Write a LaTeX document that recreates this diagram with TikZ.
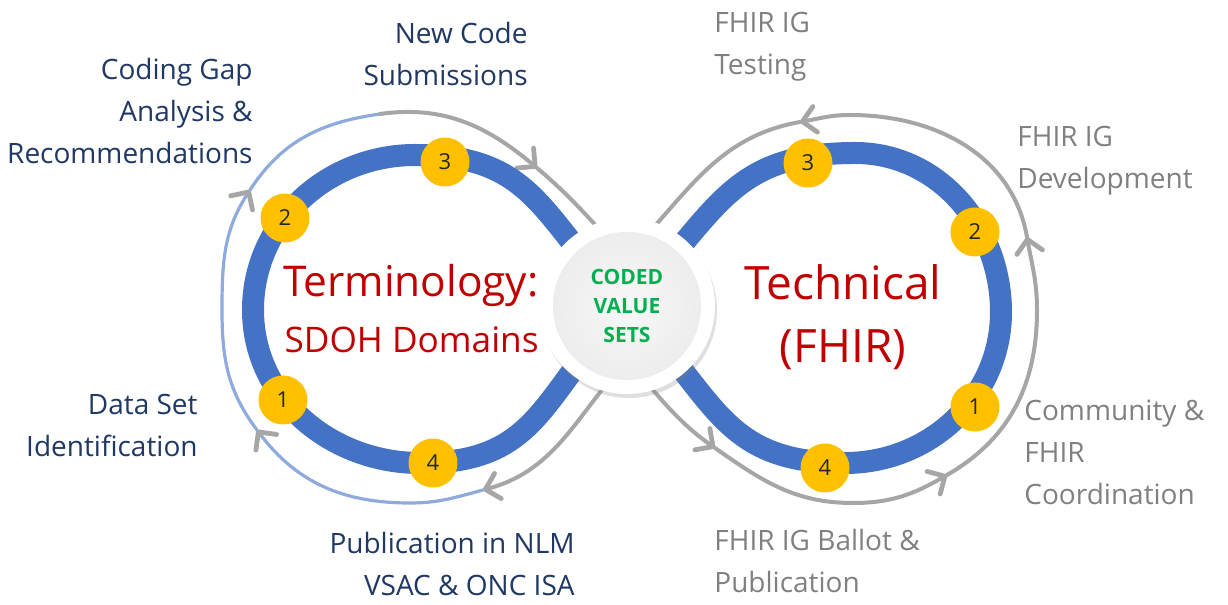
\documentclass[tikz,border=0pt]{standalone}
\usepackage{fontspec}
\setmainfont{Open Sans}
\usetikzlibrary{positioning,arrows.meta,shadows}

\definecolor{bandblue}{RGB}{68,114,196}
\definecolor{ringblue}{RGB}{143,170,220}
\definecolor{ringgray}{RGB}{166,166,166}
\definecolor{numyellow}{RGB}{255,192,0}
\definecolor{termnavy}{RGB}{32,56,100}
\definecolor{fhirgray}{RGB}{128,128,128}
\definecolor{titlered}{RGB}{192,0,0}
\definecolor{codegreen}{RGB}{0,176,80}

\tikzset{
  band/.style={draw=bandblue,line width=11pt},
  ring/.style={draw=ringgray,line width=2pt,line cap=round},
  ringb/.style={ring,draw=ringblue,line width=1.6pt},
  tip/.style={-{Straight Barb[length=6.5pt,width=13pt,color=ringgray,line width=2.4pt,round]}},
  num/.style={circle,fill=numyellow,minimum size=24.5pt,inner sep=0pt,text=black!85,font=\fontsize{11}{13}\selectfont},
  leftlbl/.style={align=right,inner sep=0pt,text=termnavy,font=\fontsize{14}{21}\selectfont},
  rightlbl/.style={align=left,inner sep=0pt,text=fhirgray,font=\fontsize{14}{21}\selectfont},
}

\begin{document}
\begin{tikzpicture}[x=0.5pt,y=0.5pt]
    \useasboundingbox (0,0) rectangle (1228,605);
    \coordinate (cc) at (627,299);

    % left ring
    \draw[ring,tip] (635,253) to[out=225,in=15] (483,115);
    \draw[ringb,tip] (483,115) to[out=195,in=0] (410,102) to[out=180,in=307] (257,175);
    \draw[ringb,tip] (257,175) to[out=127,in=270] (222,295) to[out=90,in=237] (250,415);
    \draw[ringb] (250,415) to[out=57,in=188] (380,491);
    \draw[ring,tip] (380,491) to[out=8,in=140] (537,437);
    \draw[ring] (537,437) to[out=320,in=135] (627,347);

    % right ring
    \draw[ring,tip] (618,253) to[out=315,in=145] (715,157);
    \draw[ring,tip] (715,157) to[out=325,in=180] (853,102) to[out=0,in=210] (947,130);
    \draw[ring,tip] (947,130) to[out=30,in=270] (1037,295) to[out=90,in=280] (1027,368);
    \draw[ring,tip] (1027,368) to[out=100,in=0] (850,490) to[out=180,in=10] (800,483);
    \draw[ring] (800,483) to[out=190,in=45] (625,347);

    % figure eight
    \draw[band] (cc) to[out=135,in=0,looseness=1.2] (415,450) to[out=180,in=90] (253,295)
        to[out=270,in=180] (420,142) to[out=0,in=225,looseness=1.2] (cc)
        to[out=45,in=180,looseness=1.2] (855,452) to[out=0,in=90] (1001,293)
        to[out=270,in=0] (845,142) to[out=180,in=315,looseness=1.2] (cc);

    % steps
    \node[num] (t1) at (283,205) {1};
    \node[num] (t2) at (285,387) {2};
    \node[num] (t3) at (445,443) {3};
    \node[num] (t4) at (433,142) {4};
    \node[num] (f1) at (975,198) {1};
    \node[num] (f2) at (975,373) {2};
    \node[num] (f3) at (808,442) {3};
    \node[num] (f4) at (825,137) {4};

    % hub
    \node[circle,fill=white,minimum size=88pt,drop shadow={opacity=0.25,shadow xshift=1pt,shadow yshift=-2pt}] (hub) at (cc) {};
    \node[circle,inner color=gray!6,outer color=gray!14,minimum size=74pt,align=center,
          text=codegreen,font=\bfseries\fontsize{10.5}{14.5}\selectfont] (cvs) at (cc) {CODED\\VALUE\\SETS};

    % lobe titles
    \node[anchor=base east,inner sep=0pt,text=titlered,font=\fontsize{21.2}{26}\selectfont] (term) at (539,308) {Terminology:};
    \node[anchor=base east,inner sep=0pt,text=titlered,font=\fontsize{17.6}{22}\selectfont] (sdoh) at (539,252) {SDOH Domains};
    \node[anchor=base,inner sep=0pt,text=titlered,font=\fontsize{23}{26}\selectfont] (tech) at (843,305) {Technical};
    \node[anchor=base,inner sep=0pt,text=titlered,font=\fontsize{23}{26}\selectfont] (fhir) at (843,242) {(FHIR)};

    % labels
    \node[leftlbl,anchor=east] (newcode) at (528,551) {New Code\\Submissions};
    \node[leftlbl,anchor=east] (gap) at (253,494) {Coding Gap\\Analysis \&\\Recommendations};
    \node[leftlbl,anchor=east] (dataset) at (198,179) {Data Set\\Identification};
    \node[leftlbl,anchor=east] (publish) at (575,41) {Publication in NLM\\VSAC \& ONC ISA};
    \node[rightlbl,anchor=west] (testing) at (714,558) {FHIR IG\\Testing};
    \node[rightlbl,anchor=west] (develop) at (1017,444) {FHIR IG\\Development};
    \node[rightlbl,anchor=west] (coord) at (1024,153) {Community \&\\FHIR\\Coordination};
    \node[rightlbl,anchor=west] (ballot) at (714,44) {FHIR IG Ballot \&\\Publication};
\end{tikzpicture}
\end{document}
